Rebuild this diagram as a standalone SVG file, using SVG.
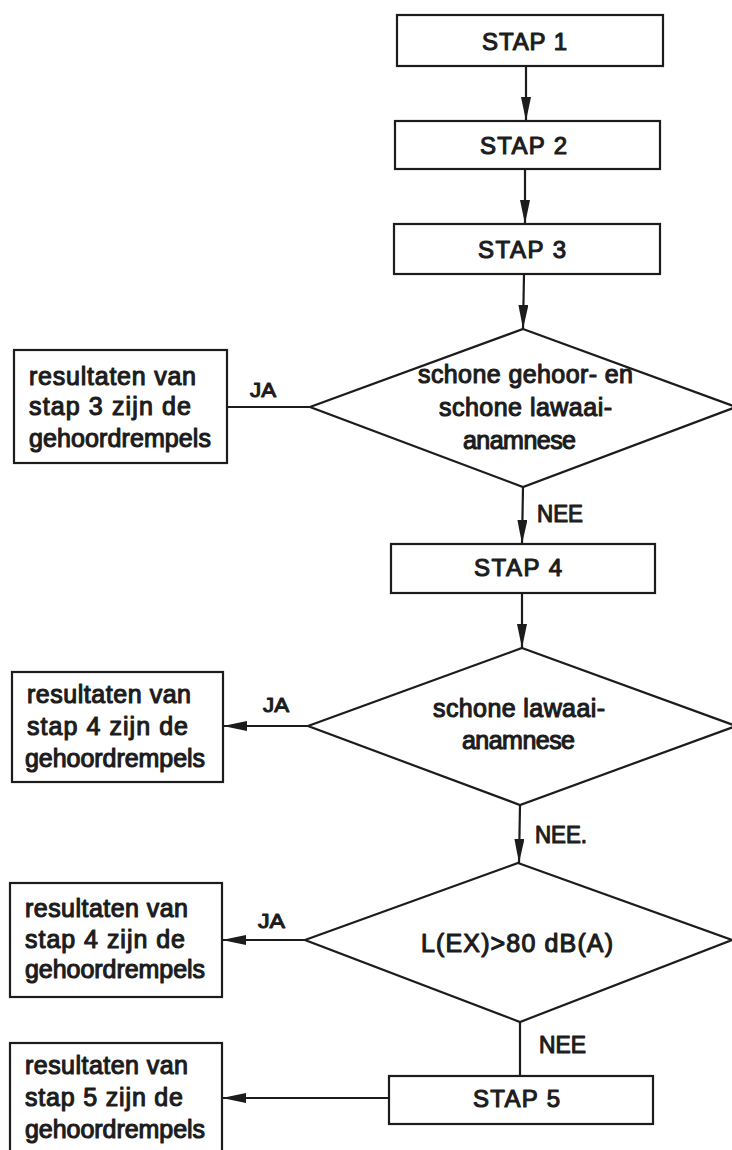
<svg xmlns="http://www.w3.org/2000/svg" width="732" height="1150" viewBox="0 0 732 1150">
<style>
.box{fill:#fff;stroke:#1c1c1c;stroke-width:2.2}
.dia{fill:#fff;stroke:#1c1c1c;stroke-width:2.2}
.edge{fill:none;stroke:#1c1c1c;stroke-width:2.2}
text{font-family:"Liberation Sans",Arial,sans-serif;font-weight:normal;fill:#1c1c1c;stroke:#1c1c1c;stroke-width:1.1;stroke-linejoin:round}
.t{font-size:25px}
.s{font-size:24px}
.l{font-size:21px}
</style>
<defs>
<marker id="ah" markerUnits="userSpaceOnUse" markerWidth="24" markerHeight="10" refX="24" refY="5" orient="auto">
<path d="M0,0 L24,5 L0,10 z" fill="#1c1c1c"/>
</marker>
</defs>
<rect width="732" height="1150" fill="#fff"/>
<g id="connectors">
<line class="edge" x1="526" y1="66" x2="526" y2="121" marker-end="url(#ah)"/>
<line class="edge" x1="525" y1="169" x2="525" y2="224" marker-end="url(#ah)"/>
<line class="edge" x1="524" y1="274" x2="523" y2="329" marker-end="url(#ah)"/>
<line class="edge" x1="227" y1="407" x2="310" y2="407"/>
<line class="edge" x1="523" y1="487" x2="522" y2="544" marker-end="url(#ah)"/>
<line class="edge" x1="522" y1="593" x2="522" y2="648" marker-end="url(#ah)"/>
<line class="edge" x1="308" y1="726" x2="223" y2="726" marker-end="url(#ah)"/>
<line class="edge" x1="520" y1="805" x2="519" y2="863" marker-end="url(#ah)"/>
<line class="edge" x1="305" y1="940" x2="222" y2="940" marker-end="url(#ah)"/>
<line class="edge" x1="520" y1="1022" x2="520" y2="1076"/>
<line class="edge" x1="389" y1="1098" x2="222" y2="1098" marker-end="url(#ah)"/>
<text class="l" x="250" y="397" textLength="26" lengthAdjust="spacingAndGlyphs">JA</text>
<text class="s" x="537" y="522" textLength="46" lengthAdjust="spacingAndGlyphs">NEE</text>
<text class="l" x="263" y="712" textLength="26" lengthAdjust="spacingAndGlyphs">JA</text>
<text class="s" x="535" y="843" textLength="52" lengthAdjust="spacingAndGlyphs">NEE.</text>
<text class="l" x="258" y="928" textLength="27" lengthAdjust="spacingAndGlyphs">JA</text>
<text class="s" x="539" y="1053" textLength="47" lengthAdjust="spacingAndGlyphs">NEE</text>
</g>
<g id="stap1">
<rect class="box" x="397" y="15" width="266" height="51"/>
<text class="s" x="482" y="50" textLength="85" lengthAdjust="spacing">STAP 1</text>
</g>
<g id="stap2">
<rect class="box" x="395" y="121" width="265" height="48"/>
<text class="s" x="480" y="154" textLength="87" lengthAdjust="spacing">STAP 2</text>
</g>
<g id="stap3">
<rect class="box" x="394" y="224" width="266" height="50"/>
<text class="s" x="478" y="258" textLength="88" lengthAdjust="spacing">STAP 3</text>
</g>
<g id="beslissing1">
<polygon class="dia" points="523,329 736,407 523,487 310,407"/>
<text class="t" x="418" y="383" textLength="215" lengthAdjust="spacing">schone gehoor- en</text>
<text class="t" x="439" y="416" textLength="173" lengthAdjust="spacing">schone lawaai-</text>
<text class="t" x="463" y="449" textLength="113" lengthAdjust="spacing">anamnese</text>
</g>
<g id="resultaat1">
<rect class="box" x="14" y="350" width="213" height="113"/>
<text class="t" x="29" y="385" textLength="167" lengthAdjust="spacing">resultaten van</text>
<text class="t" x="29" y="415" textLength="162" lengthAdjust="spacing">stap 3 zijn de</text>
<text class="t" x="29" y="447" textLength="182" lengthAdjust="spacing">gehoordrempels</text>
</g>
<g id="stap4">
<rect class="box" x="391" y="544" width="264" height="49"/>
<text class="s" x="474" y="576" textLength="88" lengthAdjust="spacing">STAP 4</text>
</g>
<g id="beslissing2">
<polygon class="dia" points="522,648 736,726 520,805 308,726"/>
<text class="t" x="433" y="717" textLength="172" lengthAdjust="spacing">schone lawaai-</text>
<text class="t" x="462" y="749" textLength="113" lengthAdjust="spacing">anamnese</text>
</g>
<g id="resultaat2">
<rect class="box" x="12" y="672" width="211" height="110"/>
<text class="t" x="27" y="703" textLength="164" lengthAdjust="spacing">resultaten van</text>
<text class="t" x="27" y="735" textLength="161" lengthAdjust="spacing">stap 4 zijn de</text>
<text class="t" x="25" y="767" textLength="180" lengthAdjust="spacing">gehoordrempels</text>
</g>
<g id="beslissing3">
<polygon class="dia" points="518,863 732,940 520,1022 305,940"/>
<text class="t" x="421" y="952" textLength="192" lengthAdjust="spacing">L(EX)&gt;80 dB(A)</text>
</g>
<g id="resultaat3">
<rect class="box" x="10" y="883" width="212" height="114"/>
<text class="t" x="25" y="917" textLength="163" lengthAdjust="spacing">resultaten van</text>
<text class="t" x="25" y="948" textLength="160" lengthAdjust="spacing">stap 4 zijn de</text>
<text class="t" x="25" y="978" textLength="180" lengthAdjust="spacing">gehoordrempels</text>
</g>
<g id="stap5">
<rect class="box" x="389" y="1076" width="264" height="48"/>
<text class="s" x="473" y="1107" textLength="87" lengthAdjust="spacing">STAP 5</text>
</g>
<g id="resultaat4">
<rect class="box" x="10" y="1043" width="212" height="120"/>
<text class="t" x="25" y="1074" textLength="163" lengthAdjust="spacing">resultaten van</text>
<text class="t" x="25" y="1106" textLength="158" lengthAdjust="spacing">stap 5 zijn de</text>
<text class="t" x="25" y="1138" textLength="180" lengthAdjust="spacing">gehoordrempels</text>
</g>
</svg>
